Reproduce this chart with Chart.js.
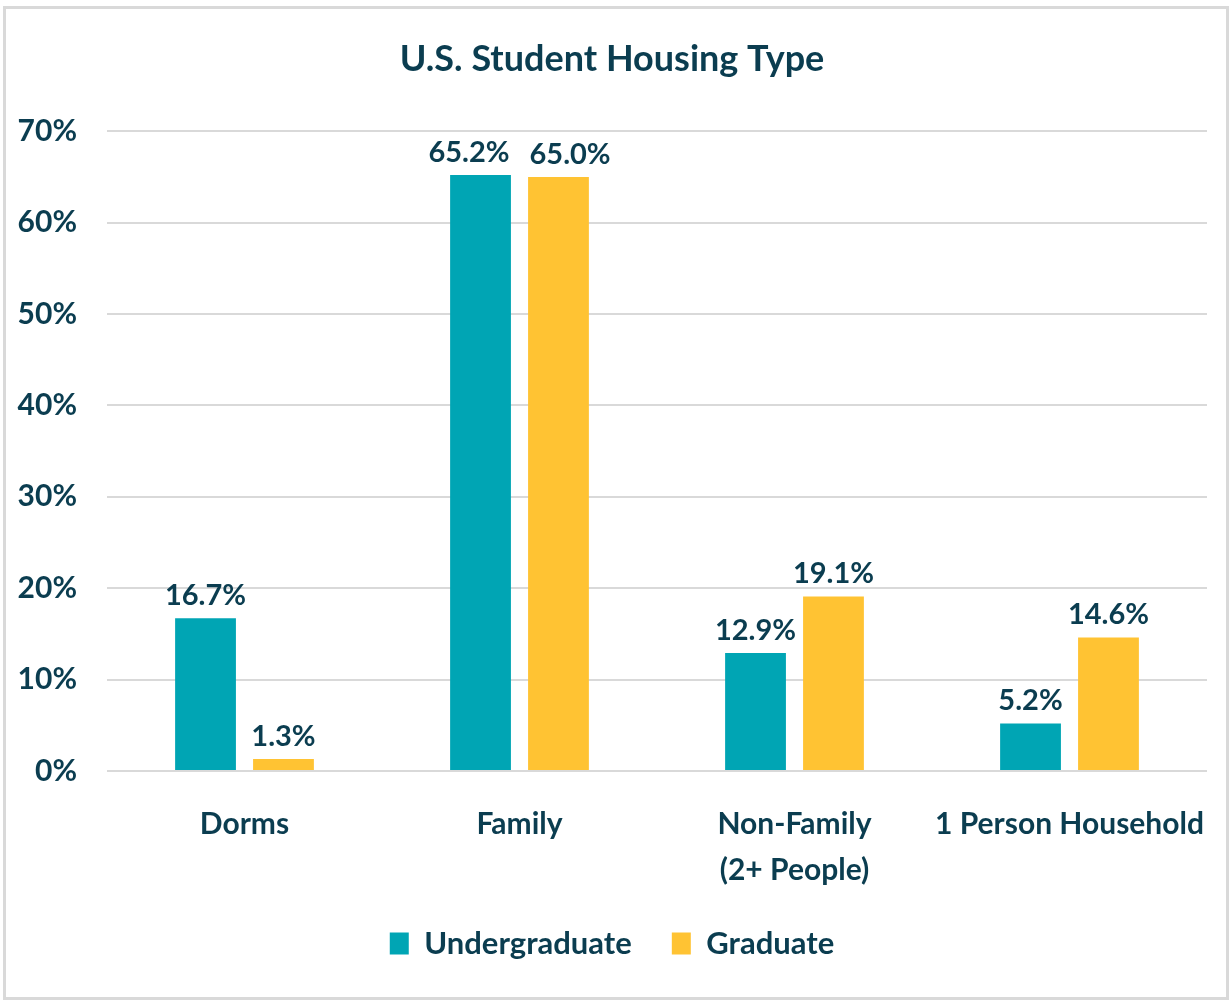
<!DOCTYPE html>
<html>
<head>
<meta charset="utf-8">
<script src="https://cdn.jsdelivr.net/npm/chart.js@4"></script>
<style>
  body { margin: 0; background: #fff; }
  #frame { position: absolute; left: 3px; top: 6px; width: 1220px; height: 988px; border: 3px solid #d9d9d9; }
  #wrap { position: absolute; left: 0; top: 0; width: 1229px; height: 1003px; }
</style>
</head>
<body>
<div id="frame"></div>
<div id="wrap"><canvas id="housingChart"></canvas></div>
<script>
const categories = ["Dorms", "Family", ["Non-Family", "(2+ People)"], "1 Person Household"];
const undergraduate = [16.7, 65.2, 12.9, 5.2];
const graduate = [1.3, 65.0, 19.1, 14.6];
const yTicks = [0, 10, 20, 30, 40, 50, 60, 70];

const textColor = "#0b3d50";
const fontFamily = "Lato, 'Open Sans', sans-serif";

// draws the value above each bar, pushing the pair apart when they would touch
const valueLabels = {
  id: "valueLabels",
  afterDatasetsDraw(chart) {
    const c = chart.ctx;
    c.save();
    c.fillStyle = textColor;
    c.font = "bold 29px " + fontFamily;
    c.textAlign = "center";
    c.textBaseline = "bottom";
    const a = chart.getDatasetMeta(0).data;
    const b = chart.getDatasetMeta(1).data;
    a.forEach((barA, j) => {
      const barB = b[j];
      const tA = undergraduate[j].toFixed(1) + "%";
      const tB = graduate[j].toFixed(1) + "%";
      let xA = barA.x, xB = barB.x;
      const need = c.measureText(tA).width / 2 + c.measureText(tB).width / 2 + 20;
      if (Math.abs(barA.y - barB.y) < 32 && xB - xA < need) {
        const shift = (need - (xB - xA)) / 2;
        xA -= shift;
        xB += shift;
      }
      c.fillText(tA, xA, barA.y - 8);
      c.fillText(tB, xB, barB.y - 8);
    });
    c.restore();
  }
};

const ctx = document.getElementById("housingChart").getContext("2d");
new Chart(ctx, {
  type: "bar",
  data: {
    labels: categories,
    datasets: [
      { label: "Undergraduate", data: undergraduate, backgroundColor: "#00a5b4" },
      { label: "Graduate", data: graduate, backgroundColor: "#ffc333" }
    ]
  },
  options: {
    responsive: true,
    maintainAspectRatio: false,
    animation: false,
    categoryPercentage: 0.567,
    barPercentage: 0.78,
    layout: { padding: { left: 17, right: 22, top: 30, bottom: 34 } },
    plugins: {
      title: {
        display: true,
        text: "U.S. Student Housing Type",
        color: textColor,
        font: { family: fontFamily, size: 36, weight: "bold" },
        padding: { top: 8, bottom: 50 }
      },
      legend: {
        position: "bottom",
        labels: {
          color: textColor,
          font: { family: fontFamily, size: 31, weight: "bold" },
          boxWidth: 19,
          boxHeight: 22,
          padding: 40
        }
      },
      tooltip: { enabled: false }
    },
    scales: {
      x: {
        afterFit: axis => { axis.height -= 28; },
        grid: { display: false },
        border: { display: false },
        ticks: {
          color: textColor,
          font: { family: fontFamily, size: 30, weight: "bold", lineHeight: 1.55 },
          maxRotation: 0,
          autoSkip: false,
          padding: 22
        }
      },
      y: {
        min: 0,
        max: 70,
        afterBuildTicks: axis => { axis.ticks = yTicks.map(v => ({ value: v })); },
        afterFit: axis => { axis.width = 90; },
        grid: { color: "#d9d9d9", lineWidth: 2, drawTicks: false },
        border: { display: false },
        ticks: {
          color: textColor,
          font: { family: fontFamily, size: 30, weight: "bold" },
          padding: 30,
          callback: v => v + "%"
        }
      }
    }
  },
  plugins: [valueLabels]
});
</script>
</body>
</html>
